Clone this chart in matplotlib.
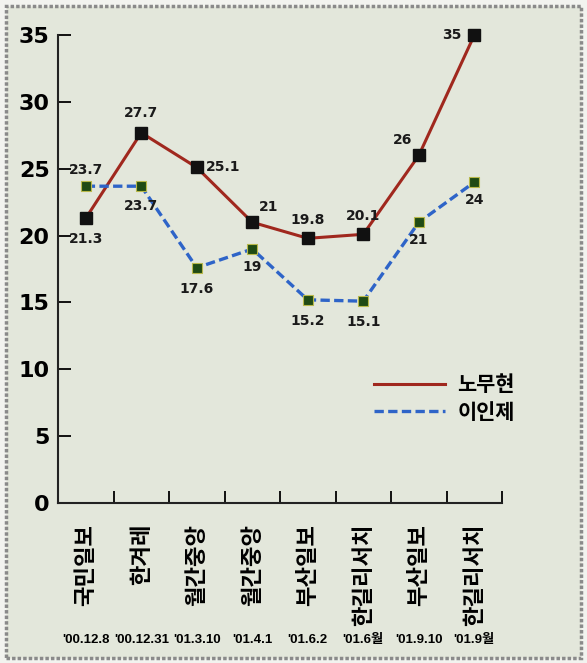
import matplotlib.pyplot as plt
from matplotlib.patches import Rectangle
from matplotlib.lines import Line2D

plt.rcParams['font.family'] = ['Noto Sans CJK KR', 'DejaVu Sans']

# 여론조사 기관 / 조사 날짜
pollsters = ['국민일보', '한겨레', '월간중앙', '월간중앙', '부산일보', '한길리서치', '부산일보', '한길리서치']
dates = ["'00.12.8", "'00.12.31", "'01.3.10", "'01.4.1", "'01.6.2", "'01.6월", "'01.9.10", "'01.9월"]

# 지지율 (%)
roh = [21.3, 27.7, 25.1, 21, 19.8, 20.1, 26, 35]
lee = [23.7, 23.7, 17.6, 19, 15.2, 15.1, 21, 24]

# 값 라벨 위치 (offset, points)
roh_off = [(0, -15), (0, 14), (19, 0), (12, 11), (0, 13), (0, 13), (-12, 11), (-16, 0)]
lee_off = [(0, 12), (0, -14), (0, -15), (0, -13), (0, -15), (0, -15), (0, -13), (0, -13)]

red = '#a0281e'
blue = '#2e64c8'
blue_ls = (0, (2.8, 1.3))

bg = '#e3e7db'
fig = plt.figure(figsize=(5.87, 6.63), dpi=100, facecolor='#f2f3ef')
fig.patches.append(Rectangle((0.01, 0.008), 0.98, 0.983, transform=fig.transFigure,
                             facecolor=bg, edgecolor='#8a8a8a', linewidth=2.5,
                             linestyle=(0, (1, 0.6)), zorder=-1))
ax = fig.add_axes([0.0988, 0.2413, 0.7565, 0.7057])
ax.set_facecolor('none')

x = list(range(len(pollsters)))
ax.plot(x, roh, color=red, lw=2.2, marker='s', ms=8, mfc='#111111', mec='#111111',
        zorder=3, clip_on=False)
ax.plot(x, lee, color=blue, lw=2.4, ls=blue_ls, marker='s', ms=7,
        mfc='#1f4a14', mec='#b8b84a', mew=0.8, zorder=3, clip_on=False)

for xi, v, o in zip(x, roh, roh_off):
    ax.annotate(f'{v:g}', (xi, v), xytext=o, textcoords='offset points',
                ha='center', va='center', fontsize=10, fontweight='bold',
                family='DejaVu Sans', color='#1a1a1a')
for xi, v, o in zip(x, lee, lee_off):
    ax.annotate(f'{v:g}', (xi, v), xytext=o, textcoords='offset points',
                ha='center', va='center', fontsize=10, fontweight='bold',
                family='DejaVu Sans', color='#1a1a1a')

ax.set_xlim(-0.5, 7.5)
ax.set_ylim(0, 35)
ax.set_yticks(range(0, 36, 5))
ax.set_yticklabels([str(t) for t in range(0, 36, 5)], fontsize=16, fontweight='bold',
                   family='DejaVu Sans')
ax.set_xticks(x)
ax.set_xticklabels(pollsters, rotation=90, fontsize=16, fontweight='bold', va='top')
ax.set_xticks([i + 0.5 for i in x], minor=True)
ax.tick_params(axis='x', which='major', length=0, pad=15)
ax.tick_params(axis='x', which='minor', direction='in', length=9, width=1.3)
ax.tick_params(axis='y', direction='in', length=9, width=1.3, pad=6)
for s in ['top', 'right']:
    ax.spines[s].set_visible(False)
for s in ['left', 'bottom']:
    ax.spines[s].set_linewidth(1.5)
    ax.spines[s].set_color('#222222')

for xi, d in zip(x, dates):
    ax.text(xi, -0.293, d, transform=ax.get_xaxis_transform(), ha='center', va='center',
            fontsize=9.5, fontweight='bold', family=['Liberation Sans', 'Noto Sans CJK KR'])

handles = [Line2D([], [], color=red, lw=2.2),
           Line2D([], [], color=blue, lw=2.4, ls=blue_ls)]
leg = ax.legend(handles, ['노무현', '이인제'], loc='upper left', bbox_to_anchor=(0.67, 0.315),
                frameon=False, prop={'size': 15, 'weight': 'bold'},
                handlelength=3.4, handletextpad=0.6, labelspacing=0.3)

fig.savefig('out.png', dpi=100, facecolor=fig.get_facecolor())
